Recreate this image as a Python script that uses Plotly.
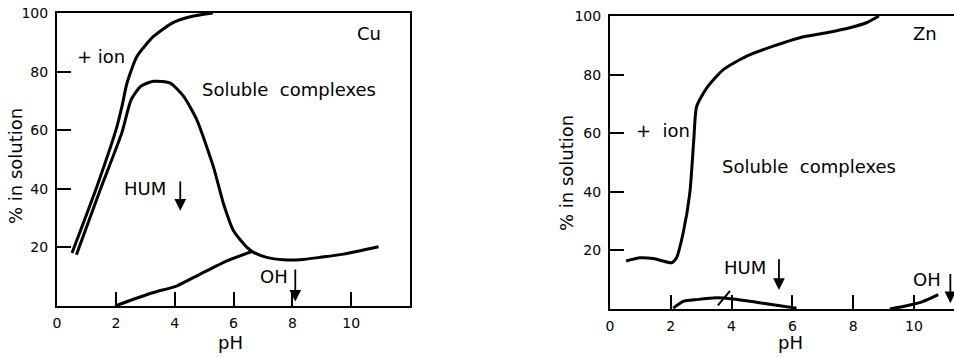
import plotly.graph_objects as go

# ---------------- data ----------------
# Cu panel
cu_ion_x = [0.51, 1.36, 2.04, 2.21, 2.38, 2.72, 3.28, 3.96, 4.6, 5.3]
cu_ion_y = [18.1, 40.9, 61.3, 68.2, 76.1, 85.2, 92.0, 96.8, 98.9, 100.0]

cu_sol_x = [0.66, 1.47, 2.2, 2.52, 2.85, 3.28, 3.85, 4.3, 4.75, 5.32, 5.66, 6.0, 6.46, 6.68, 7.13, 7.7, 8.27, 8.95, 9.74, 10.93]
cu_sol_y = [17.5, 39.7, 59.0, 70.4, 75.0, 76.7, 76.1, 71.6, 63.6, 47.4, 34.9, 25.7, 20.0, 18.3, 16.6, 15.8, 15.8, 16.6, 17.7, 20.2]

cu_hum_x = [1.98, 2.6, 3.28, 4.08, 4.87, 5.78, 6.63]
cu_hum_y = [0.0, 2.3, 4.6, 6.9, 10.9, 15.4, 18.6]

# Zn panel
zn_ion_x = [0.53, 0.99, 1.43, 2.03, 2.19, 2.41, 2.63, 2.76, 2.85, 3.18, 3.73, 4.5, 5.37, 6.25, 7.13, 7.89, 8.44, 8.85]
zn_ion_y = [16.4, 17.5, 17.2, 15.8, 17.5, 26.1, 39.9, 58.2, 69.1, 75.4, 81.7, 86.3, 89.7, 92.6, 94.3, 96.0, 97.7, 100.0]

zn_hum_x = [2.08, 2.41, 2.85, 3.51, 4.06, 4.82, 5.59, 6.14]
zn_hum_y = [0.3, 2.6, 3.2, 3.8, 3.4, 2.3, 1.1, 0.3]

zn_oh_x = [9.21, 9.76, 10.31, 10.8]
zn_oh_y = [0.0, 1.1, 2.6, 4.9]

zn_slash_x = [3.55, 3.95]
zn_slash_y = [1.2, 6.2]

tick_vals = [0, 2, 4, 6, 8, 10]
tick_text = ["0", "2", "4", "6", "8", "10"]
ytick_vals = [20, 40, 60, 80, 100]

# ---------------- figure ----------------
FONT = "DejaVu Sans"
W, H = 954, 357
fig = go.Figure()

line = dict(color="black", width=3, shape="spline", smoothing=0.6)

for xs, ys in [(cu_ion_x, cu_ion_y), (cu_sol_x, cu_sol_y), (cu_hum_x, cu_hum_y)]:
    fig.add_trace(go.Scatter(x=xs, y=ys, mode="lines", line=line, xaxis="x", yaxis="y",
                             showlegend=False, hoverinfo="skip"))
for xs, ys in [(zn_ion_x, zn_ion_y), (zn_hum_x, zn_hum_y), (zn_oh_x, zn_oh_y)]:
    fig.add_trace(go.Scatter(x=xs, y=ys, mode="lines", line=line, xaxis="x2", yaxis="y2",
                             showlegend=False, hoverinfo="skip"))
fig.add_trace(go.Scatter(x=zn_slash_x, y=zn_slash_y, mode="lines",
                         line=dict(color="black", width=2), xaxis="x2", yaxis="y2",
                         showlegend=False, hoverinfo="skip"))

axis_common = dict(showgrid=False, zeroline=False, showline=True, linecolor="black",
                   linewidth=2, ticks="inside", ticklen=14, tickwidth=1.5, tickcolor="black",
                   automargin=False,
                   tickfont=dict(family=FONT, size=14, color="black"))

fig.update_layout(
    width=W, height=H,
    margin=dict(l=0, r=0, t=0, b=0),
    paper_bgcolor="white", plot_bgcolor="white",
    xaxis=dict(domain=[57 / W, 410 / W], range=[0, 12], mirror=True,
               tickvals=tick_vals, ticktext=tick_text, anchor="y", ticklabelstandoff=3,
               **axis_common),
    yaxis=dict(domain=[1 - 306 / H, 1 - 13 / H], range=[0, 100], mirror=True,
               tickvals=ytick_vals, anchor="x", ticklabelstandoff=4,
               **axis_common),
    xaxis2=dict(domain=[610 / W, 1.0], range=[0, 11.32], mirror=True,
                tickvals=tick_vals, ticktext=tick_text, anchor="y2", ticklabelstandoff=3,
                **axis_common),
    yaxis2=dict(domain=[1 - 309 / H, 1 - 16 / H], range=[0, 100], mirror=False,
                tickvals=ytick_vals, anchor="x2", ticklabelstandoff=4,
                **axis_common),
)

# axis titles
title_font = dict(family=FONT, size=18, color="black")
for px, py, t, ang in [(230, 342, "pH", 0), (790, 342, "pH", 0),
                       (15, 166, "% in solution", -90), (566, 173, "% in solution", -90)]:
    fig.add_annotation(x=px / W, y=1 - py / H, xref="paper", yref="paper", text=t,
                       showarrow=False, textangle=ang, font=title_font,
                       xanchor="center", yanchor="middle")

txt = dict(family=FONT, size=18, color="black")
labels = [
    ("x", "y", 1.5, 85, "+ ion"),
    ("x", "y", 7.9, 74, "Soluble  complexes"),
    ("x", "y", 10.6, 93, "Cu"),
    ("x", "y", 2.98, 40, "HUM"),
    ("x", "y", 7.37, 10, "OH"),
    ("x2", "y2", 1.75, 61, "+  ion"),
    ("x2", "y2", 6.56, 48.5, "Soluble  complexes"),
    ("x2", "y2", 10.36, 94, "Zn"),
    ("x2", "y2", 4.43, 14, "HUM"),
    ("x2", "y2", 10.44, 10, "OH"),
]
for xr, yr, x, y, t in labels:
    fig.add_annotation(x=x, y=y, xref=xr, yref=yr, text=t, showarrow=False, font=txt)

arrows = [
    ("x", "y", 4.19, 43, 32.5),
    ("x", "y", 8.1, 13, 1.5),
    ("x2", "y2", 5.56, 17.5, 6.5),
    ("x2", "y2", 11.2, 12.5, 2.0),
]
for xr, yr, x, y0, y1 in arrows:
    fig.add_annotation(x=x, y=y1, ax=x, ay=y0, xref=xr, yref=yr, axref=xr, ayref=yr,
                       text="", showarrow=True, arrowhead=2, arrowsize=1.3, arrowwidth=1.8,
                       arrowcolor="black")

fig.write_html("out.html", config={"displayModeBar": False},
               post_script="document.body.style.margin='0';document.body.style.overflow='hidden';")
